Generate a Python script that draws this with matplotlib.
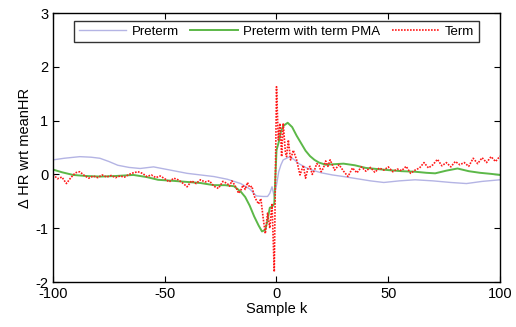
import matplotlib
matplotlib.use("Agg")
import matplotlib.pyplot as plt

# ---- data ----
preterm_k = [-100, -95, -88, -83, -79, -75, -71, -66, -61, -55, -50, -45, -40, -34, -28,
             -22, -16, -12, -9, -6, -4, -3, -2, -1, 0, 1, 2, 3, 5, 6, 8, 10, 13, 16, 20,
             25, 30, 36, 42, 48, 55, 62, 70, 78, 85, 92, 100]
preterm_hr = [0.27, 0.30, 0.33, 0.32, 0.30, 0.24, 0.17, 0.13, 0.11, 0.14, 0.10, 0.06, 0.02,
              -0.01, -0.04, -0.09, -0.17, -0.27, -0.40, -0.41, -0.41, -0.35, -0.23, -0.41,
              -0.20, 0.05, 0.18, 0.27, 0.31, 0.33, 0.27, 0.20, 0.13, 0.08, 0.03, -0.01, -0.04,
              -0.08, -0.12, -0.15, -0.12, -0.10, -0.12, -0.15, -0.17, -0.13, -0.10]

pma_k = [-100, -96, -91, -85, -79, -72, -64, -58, -53, -46, -40, -34, -28, -23, -19, -16,
         -14, -12, -10, -8, -6.5, -5, -4, -3, -2, -1, 0, 1, 2, 3, 5, 7, 9, 11, 13, 15, 17,
         19, 22, 26, 30, 35, 40, 45, 50, 56, 62, 67, 71, 76, 81, 86, 91, 96, 100]
pma_hr = [0.09, 0.04, -0.01, -0.03, -0.04, -0.03, -0.01, -0.05, -0.10, -0.12, -0.14, -0.16,
          -0.20, -0.20, -0.22, -0.32, -0.42, -0.58, -0.78, -0.95, -1.06, -1.03, -0.85, -0.62,
          -0.60, -0.55, 0.45, 0.60, 0.80, 0.90, 0.96, 0.88, 0.72, 0.58, 0.44, 0.34, 0.27,
          0.22, 0.18, 0.19, 0.20, 0.17, 0.12, 0.10, 0.08, 0.06, 0.05, 0.03, 0.02, 0.07, 0.11,
          0.06, 0.03, 0.01, -0.01]

term_k = [-100, -98, -96, -94, -92, -90, -88, -86, -84, -82, -80, -78, -76, -74, -72, -70,
          -68, -66, -64, -62, -60, -58, -56, -54, -52, -50, -48, -46, -44, -42, -40, -38,
          -36, -34, -32, -30, -28, -26, -24, -22,
          -21, -20, -19, -18, -17, -16, -15, -14, -13, -12, -11, -10, -9, -8, -7, -6, -5,
          -4, -3, -2, -1, 0, 0.8, 1.6, 2.3, 3, 4, 4.5, 5.3, 6.3, 7.5, 9, 10.5,
          11, 12, 13, 14, 15, 16, 17, 18, 19, 20, 21, 22, 23, 24,
          26, 28, 30, 32, 34, 36, 38, 40, 42, 44, 46, 48, 50, 52, 54, 56, 58, 60, 62, 64,
          66, 68, 70, 72, 74, 76, 78, 80, 82, 84, 86, 88, 90, 92, 94, 96, 98, 100]
term_hr = [0.00, -0.08, -0.05, -0.17, -0.06, 0.03, 0.05, -0.02, -0.07, -0.03, -0.06, -0.01,
           -0.05, -0.02, -0.06, -0.03, -0.05, 0.00, 0.03, 0.05, 0.02, -0.04, -0.01, -0.06,
           -0.03, -0.08, -0.14, -0.07, -0.10, -0.16, -0.23, -0.12, -0.17, -0.10, -0.14,
           -0.12, -0.22, -0.26, -0.13, -0.17,
           -0.22, -0.12, -0.18, -0.25, -0.35, -0.30, -0.20, -0.28, -0.15, -0.24, -0.22,
           -0.40, -0.48, -0.55, -0.45, -0.80, -1.10,
           -0.72, -1.00, -0.54, -1.81, 1.63, 0.64, 0.95, 0.33, 0.95, 0.40, 0.33, 0.64, 0.27,
           0.45, 0.27, -0.01,
           0.05, 0.17, -0.07, 0.10, 0.15, 0.00, 0.08, 0.20, 0.17, 0.05, 0.12, 0.25, 0.15, 0.27,
           0.08, 0.18, 0.06, -0.04, 0.12, 0.03, 0.14, 0.06, 0.13, 0.04, 0.12, 0.08, 0.14, 0.05,
           0.10, 0.07, 0.15, 0.02, 0.08, 0.12, 0.22, 0.12, 0.18, 0.28, 0.16, 0.22, 0.14, 0.24,
           0.18, 0.22, 0.15, 0.30, 0.20, 0.31, 0.22, 0.33, 0.24, 0.34]

x_ticks = [-100, -50, 0, 50, 100]
y_ticks = [-2, -1, 0, 1, 2, 3]

plt.rcParams["font.family"] = ["Liberation Sans", "DejaVu Sans"]
plt.rcParams["axes.unicode_minus"] = False

fig = plt.figure(figsize=(5.16, 3.27), dpi=100)
ax = fig.add_axes([0.1027, 0.1376, 0.8663, 0.8226])

ax.plot(preterm_k, preterm_hr, color="#b4b4e4", lw=1.0, label="Preterm")
ax.plot(pma_k, pma_hr, color="#5cb848", lw=1.4, label="Preterm with term PMA")
ax.plot(term_k, term_hr, color="#ff1a1a", lw=1.2, ls=(0, (1, 0.8)), label="Term")

ax.set_xlim(-100, 100)
ax.set_ylim(-2, 3)
ax.set_xticks(x_ticks)
ax.set_yticks(y_ticks)
ax.tick_params(direction="in", top=True, right=True, length=4, width=0.8, labelsize=10.5)
for s in ax.spines.values():
    s.set_linewidth(1.0)

ax.set_xlabel("Sample k", fontsize=10.5, labelpad=1)
ax.set_ylabel("\u0394 HR wrt meanHR", fontsize=10.5, labelpad=2)

leg = ax.legend(loc="upper center", ncol=3, fontsize=9.5, frameon=True, fancybox=False,
                edgecolor="black", handlelength=3.6, handletextpad=0.4, columnspacing=0.9,
                borderaxespad=0.6, borderpad=0.35)
leg.get_frame().set_linewidth(1.0)

fig.savefig("out.png", dpi=100)
